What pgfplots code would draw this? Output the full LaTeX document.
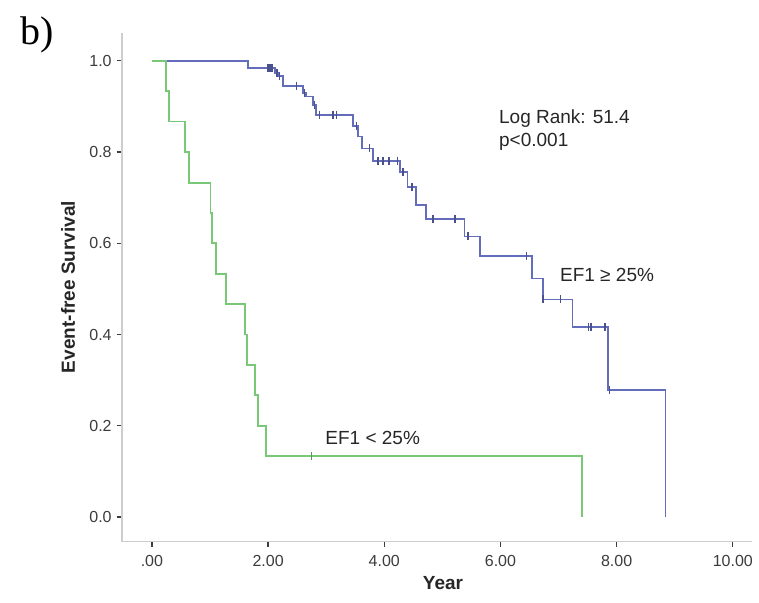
\documentclass[border=0pt]{standalone}
\usepackage{fontspec}
\setmainfont{Liberation Sans}
\newfontfamily\seriffont{Liberation Serif}
\usepackage{pgfplots}
\pgfplotsset{compat=1.18}
\definecolor{kmblue}{RGB}{100,108,188}
\definecolor{kmgreen}{RGB}{120,200,120}
\definecolor{spine}{RGB}{205,205,205}
\definecolor{ticktext}{RGB}{60,60,60}
\begin{document}
\begin{tikzpicture}
\path[use as bounding box] (0,0) rectangle (379.5pt,301.5pt);
\begin{axis}[
  at={(60.85pt,30.65pt)}, anchor=south west,
  scale only axis, width=315.15pt, height=254.35pt,
  xmin=-0.52, xmax=10.33, ymin=-0.054, ymax=1.061,
  axis lines=left,
  axis line style={spine, line width=0.8pt, -},
  xtick={0,2,4,6,8,10},
  xticklabels={.00,2.00,4.00,6.00,8.00,10.00},
  ytick={0,0.2,0.4,0.6,0.8,1.0},
  yticklabels={0.0,0.2,0.4,0.6,0.8,1.0},
  tick align=outside,
  major tick length=2.5pt,
  tick style={ticktext, line width=0.6pt},
  ticklabel style={font=\fontsize{8}{9}\selectfont, text=ticktext},
  xticklabel style={yshift=-1pt},
  yticklabel style={xshift=1pt},
  clip=false,
]
\addplot[kmblue, line width=0.9pt, const plot] coordinates {
(0,1) (1.66,0.984) (2.12,0.973) (2.17,0.966) (2.25,0.945) (2.60,0.929)
(2.65,0.922) (2.77,0.903) (2.83,0.882) (3.46,0.858) (3.55,0.834)
(3.61,0.808) (3.80,0.781) (4.27,0.757) (4.40,0.723) (4.54,0.684)
(4.72,0.653) (5.38,0.615) (5.65,0.573) (6.54,0.523) (6.73,0.477)
(7.24,0.417) (7.85,0.279) (8.84,0)
};
\addplot[kmgreen, line width=0.9pt, const plot] coordinates {
(0,1) (0.24,0.933) (0.30,0.867) (0.57,0.8) (0.64,0.733) (1.01,0.667)
(1.04,0.6) (1.11,0.533) (1.27,0.467) (1.60,0.4) (1.64,0.333)
(1.77,0.267) (1.83,0.2) (1.97,0.133) (7.41,0)
};
\addplot[only marks, mark=|, mark size=2pt, kmblue!75!black, mark options={line width=0.7pt}] coordinates {
(2.00,0.984) (2.03,0.984) (2.07,0.984) (2.15,0.973) (2.20,0.966)
(2.49,0.945) (2.63,0.929) (2.80,0.903) (2.89,0.882) (3.12,0.882)
(3.18,0.882) (3.52,0.858) (3.75,0.808) (3.89,0.781) (3.98,0.781)
(4.08,0.781) (4.23,0.781) (4.32,0.757) (4.48,0.723) (4.84,0.653)
(5.22,0.653) (5.44,0.615) (6.45,0.573) (6.73,0.477) (7.03,0.477)
(7.52,0.417) (7.56,0.417) (7.80,0.417) (7.88,0.279)
};
\addplot[only marks, mark=|, mark size=2pt, kmgreen!75!black, mark options={line width=0.7pt}] coordinates {
(2.75,0.133)
};
\node[anchor=base west, inner sep=0pt, font=\fontsize{9.5}{11}\selectfont, text=black!85] at (axis cs:5.97,0.862) {Log Rank: 51.4};
\node[anchor=base west, inner sep=0pt, font=\fontsize{9.5}{11}\selectfont, text=black!85] at (axis cs:5.97,0.812) {p<0.001};
\node[anchor=base west, inner sep=0pt, font=\fontsize{9.5}{11}\selectfont, text=black!85] at (axis cs:7.02,0.516) {EF1 ≥ 25\%};
\node[anchor=base west, inner sep=0pt, font=\fontsize{9.5}{11}\selectfont, text=black!85] at (axis cs:2.98,0.160) {EF1 < 25\%};
\end{axis}
\node[anchor=base west, inner sep=0pt, font=\seriffont\fontsize{20}{24}\selectfont] at (10pt,279pt) {b)};
\node[rotate=90, inner sep=0pt, font=\bfseries\fontsize{9.5}{11}\selectfont, text=black!85] at (34pt,158pt) {Event-free Survival};
\node[anchor=base, inner sep=0pt, font=\bfseries\fontsize{9.5}{11}\selectfont, text=black!85] at (221.5pt,6.5pt) {Year};
\end{tikzpicture}
\end{document}
